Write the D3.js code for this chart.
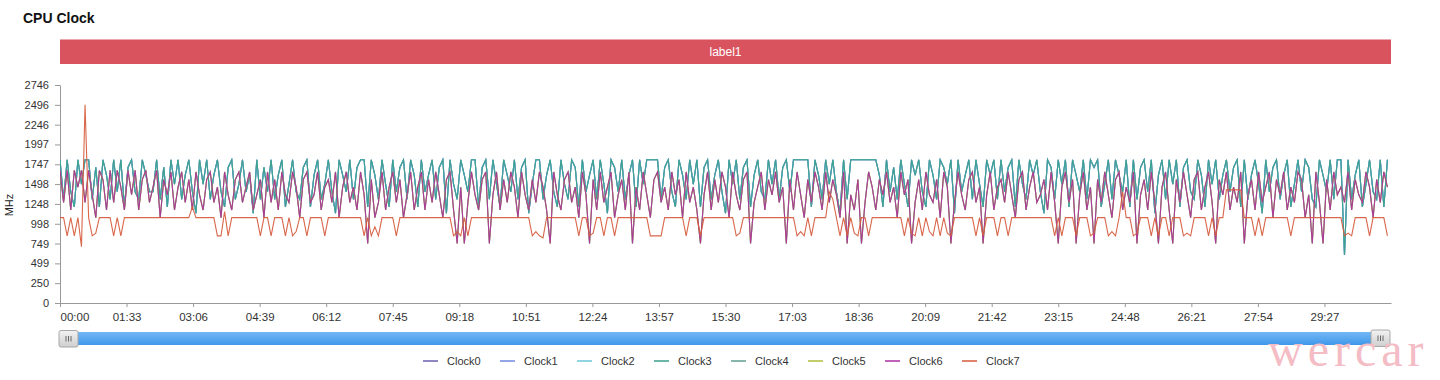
<!DOCTYPE html>
<html><head><meta charset="utf-8">
<script src="https://cdn.jsdelivr.net/npm/d3@7"></script>
<style>
body{margin:0;background:#fff;}
svg{display:block;font-family:"Helvetica Neue",Helvetica,Arial,"Liberation Sans",sans-serif;}
</style>
</head><body>
<svg id="chart" width="1440" height="380"></svg>
<script>
// ---- data (MHz, sampled every 5 s) ----
const sampleStepSeconds = 5;
const littleCluster = [
1804,1306,1804,1401,1210,1804,1497,1804,1804,1306,1708,1210,1804,1612,1306,1804,1401,1804,1210,1708,
1804,1401,1306,1804,1612,1401,1401,1804,1306,1708,1210,1804,1497,1804,1306,1612,1804,1401,1132,1804,
1497,1804,1306,1612,1804,1401,1210,1708,1804,1306,1497,1804,1401,1612,1132,1804,1306,1708,1401,1804,
1306,1612,1804,1210,1497,1804,1401,1306,1708,1804,1210,1612,1804,1306,1497,1804,1401,1132,1804,1612,
1401,1804,1306,1708,1804,1804,1210,1804,1612,1306,1804,1497,1210,1804,1401,1708,1804,1306,1804,1612,
1210,1804,1401,1612,1804,1306,1708,1804,1132,1804,1497,1306,1804,1612,1401,1804,1804,1210,1708,1804,
1306,1804,1497,1210,1804,1612,1401,1804,1306,1708,1804,1132,1497,1804,1804,1306,1612,1804,1401,1210,
1804,1497,1306,1804,1708,1210,1804,1401,1612,1804,1306,1804,1497,1132,1804,1708,1401,1804,1306,1612,
1804,1210,1804,1497,1804,1804,1804,1804,1306,1708,1804,1401,1210,1804,1612,1306,1804,1497,1804,1210,
1708,1804,1306,1612,1804,1401,1132,1804,1497,1804,1306,1708,1804,1210,1612,1804,1401,1306,1804,1497,
1804,1306,1708,1804,1401,1804,1804,1804,1804,1804,1210,1804,1612,1306,1804,1497,1804,1401,1132,1804,
1306,1804,1804,1804,1804,1804,1804,1804,1804,1612,1210,1804,1401,1708,1306,1804,1497,1210,1804,1612,
1804,1401,1210,1804,1612,1306,1804,1708,1497,1804,1132,1804,1401,1612,1804,1306,1804,1497,1210,1804,
1612,1804,1306,1804,1401,1708,1804,1210,1804,1497,1306,1804,1612,1804,1401,1132,1804,1708,1306,1804,
1497,1804,1210,1804,1612,1401,1804,1306,1804,1708,1804,1210,1497,1804,1306,1804,1612,1401,1804,1210,
1804,1306,1708,1804,1401,1804,1132,1612,1804,1306,1804,1497,1804,1210,1708,1804,1401,1306,1804,1612,
1210,1804,1497,1804,1306,1612,1804,1401,1708,1804,1210,1804,1306,1612,1804,1497,1132,1804,1401,1708,
1804,1306,1612,1804,1210,1497,1804,1401,1804,1708,1306,1210,1804,1612,1401,1804,1306,1804,1804,605,
1804,1306,1612,1804,1210,1497,1804,1401,1306,1804,1210,1804
];
const bigCluster = [
1670,1267,1670,1171,1670,1459,1670,1267,1670,1363,1075,1670,1555,1171,1670,1267,1670,1459,1171,1670,
1363,1670,1171,1555,1670,1267,1459,1670,1075,1555,1363,1651,1171,1459,1651,1267,1555,1171,1651,1363,
1171,1555,1651,1267,1459,1075,1651,1363,1171,1555,1651,1267,1459,1651,1171,1363,1555,1075,1651,1267,
1555,1171,1651,1363,1267,1651,1459,1075,1555,1651,1267,1363,1651,1171,1459,1555,1267,1651,1075,1459,
1651,1267,1459,1171,1651,1363,749,1555,1075,1267,1651,1171,1459,1651,1267,1555,1075,1363,1651,1171,
1459,1651,1171,1555,1267,1651,1363,1075,1555,1651,1171,749,1459,749,1267,1651,1363,1171,1555,1651,
749,1363,1651,1171,1555,1267,1651,1459,1075,1651,1363,1171,1555,1267,1651,1459,1171,749,1651,1363,
1171,1555,1651,1267,1459,1075,1651,1363,749,1555,1171,1651,1267,1459,1651,1075,1363,1555,1171,1651,
749,1459,1171,1651,1363,1075,1555,1651,1267,1459,1171,1651,1363,1555,1075,1651,1267,1459,1171,749,
1363,1651,1171,1555,1267,1651,1459,1075,1651,1363,1171,1555,1651,749,1267,1459,1651,1171,1555,1363,
1651,1267,1459,749,1555,1171,1651,1363,1075,1555,1267,1651,1459,1171,1651,1267,1555,1363,1075,1651,
749,1363,1171,1555,749,1267,1651,1459,1171,1555,1363,1651,1267,1459,1075,1651,1363,1555,749,1267,
1555,1171,1651,1363,1267,1555,1075,1651,1459,749,1267,1651,1363,1171,1555,1651,1267,1459,749,1363,
1651,1171,1459,1555,1267,1651,1363,1075,1555,1651,1171,1459,1651,1267,1363,1555,1171,1651,1267,749,
1459,1651,1267,1555,749,1363,1651,1171,1459,749,1555,1267,1651,1363,1075,1555,1651,1171,1459,1267,
1651,749,1363,1555,1171,1651,1267,749,1459,1651,1171,749,1555,1267,1651,1363,1075,1555,1651,1171,
1459,1651,1267,749,1555,1363,1651,1171,1459,1267,1651,749,1363,1555,1171,1651,1267,1459,1651,1075,
1555,1363,1651,1171,1459,1267,1651,1555,1075,1363,749,1651,1267,749,1555,1171,1651,1363,1459,1267,
1651,1171,1555,1363,1267,1651,1459,1075,1555,1267,1651,1459
];
const primeCore = [
1075,1075,846,1075,846,1075,708,2496,1075,846,880,1075,1075,1075,1075,846,1075,846,1075,1075,
1075,1075,1075,1075,1075,1075,1075,1075,1075,1075,1075,1075,1075,1075,1075,1075,1075,1210,1075,1075,
1075,1075,1075,1075,846,846,1150,846,1075,1075,1075,1075,1075,1075,1075,1075,846,1075,1075,846,
1075,1075,1075,846,1075,846,900,1075,1075,846,1075,1075,1075,1075,846,1075,1075,1075,1075,1075,
1075,1075,1075,1075,1075,846,1075,846,960,846,1075,1075,1075,1075,846,1075,1075,1075,1075,1075,
1075,1075,1075,1075,1075,1075,1075,1075,1075,1075,846,900,846,1075,846,1075,1075,1075,1075,1075,
1075,1075,1075,1075,1075,1075,1075,1075,1075,1075,1075,1075,846,900,846,820,1075,1075,1075,1075,
1075,1075,1075,1075,1075,846,1075,1075,846,880,1075,1075,846,1075,1075,846,1075,1075,1075,1075,
1075,1075,1075,1075,1075,846,846,846,846,1075,1075,1075,1075,1075,1075,846,1075,1075,1075,846,
1075,1075,1075,1075,1075,1075,1075,1075,1075,846,880,1075,1075,1075,1075,1075,1075,1075,1075,1075,
1075,1075,1075,1075,1075,1075,846,900,846,1075,846,1075,1075,1075,1075,1400,1306,1075,846,1075,
846,1075,880,846,1075,1075,846,1075,1075,1075,1075,1075,1075,1075,1075,1075,846,1075,880,846,
1075,846,1075,900,846,1075,846,1075,880,846,1075,1075,1075,1075,1075,1075,846,1075,846,1075,
1075,1075,846,1075,1075,846,1075,1075,1075,1075,1075,1075,1075,1075,1075,1075,1075,1075,846,1075,
846,1075,1075,1075,846,1075,1075,1075,846,880,1075,1075,1075,846,900,846,1075,1401,1075,1075,
846,880,1075,1075,1075,846,1075,846,1075,1075,846,1075,1075,1075,846,880,846,1075,1075,1075,
1075,846,1075,846,1075,1075,1425,1425,1425,1425,1425,1075,1075,1075,846,1075,846,1075,1075,1075,
1075,1075,1075,1075,846,1075,1075,1075,1075,1075,1075,1075,1075,1075,1075,1075,1075,1075,1075,846,
880,846,1075,1075,1075,1075,846,1075,1075,1075,1075,846
];
const seriesNames = ["Clock0","Clock1","Clock2","Clock3","Clock4","Clock5","Clock6","Clock7"];
const seriesColors = ["#6a5fb0","#6f88e0","#6cc7d8","#3a9e8a","#5f9e90","#b0bd3a","#ab2fa2","#d65a3c"];
const seriesValues = [littleCluster, littleCluster, littleCluster, littleCluster, bigCluster, bigCluster, bigCluster, primeCore];
const yTickValues = [0,250,499,749,998,1248,1498,1747,1997,2246,2496,2746];
const xTickSeconds = [0,93,186,279,372,465,558,651,744,837,930,1023,1116,1209,1302,1395,1488,1581,1674,1767];
const xTickLabels = ["00:00","01:33","03:06","04:39","06:12","07:45","09:18","10:51","12:24","13:57","15:30","17:03","18:36","20:09","21:42","23:15","24:48","26:21","27:54","29:27"];
const xMaxSeconds = 1860;
const yMax = 2746;
const bandLabel = "label1";

// ---- layout ----
const svg = d3.select("#chart");
const L = 60, R = 1391, T = 85, B = 303;
const x = d3.scaleLinear().domain([0, xMaxSeconds]).range([L, R]);
const y = d3.scaleLinear().domain([0, yMax]).range([B, T]);

svg.append("text").attr("x", 23).attr("y", 23).attr("font-size", 14).attr("font-weight", "bold")
  .attr("fill", "#111").text("CPU Clock");

svg.append("rect").attr("x", L).attr("y", 39.5).attr("width", R - L).attr("height", 24.5).attr("fill", "#d9535f");
svg.append("text").attr("x", (L + R) / 2).attr("y", 52).attr("dy", "0.35em").attr("text-anchor", "middle")
  .attr("font-size", 12).attr("fill", "#fff").text(bandLabel);

// y axis
const yAxis = svg.append("g").attr("transform", `translate(${L},0)`)
  .call(d3.axisLeft(y).tickValues(yTickValues).tickFormat(d => d).tickSize(5).tickSizeOuter(0).tickPadding(6));
yAxis.select(".domain").attr("stroke", "#999");
yAxis.selectAll(".tick line").attr("stroke", "#999");
yAxis.selectAll("text").attr("font-size", 11).attr("fill", "#333").attr("font-family", null);

svg.append("text").attr("transform", "translate(13,205) rotate(-90)").attr("text-anchor", "middle")
  .attr("font-size", 11).attr("fill", "#222").text("MHz");

// x axis
const xAxis = svg.append("g").attr("transform", `translate(0,${B})`)
  .call(d3.axisBottom(x).tickValues(xTickSeconds).tickFormat((d, i) => xTickLabels[i]).tickSize(4).tickSizeOuter(0).tickPadding(6));
xAxis.select(".domain").attr("stroke", "#999");
xAxis.selectAll(".tick line").attr("stroke", "#999");
xAxis.selectAll("text").attr("font-size", 11.5).attr("fill", "#333").attr("font-family", null);
xAxis.selectAll("text").filter((d, i) => i === 0).attr("text-anchor", "start");

// lines
svg.append("clipPath").attr("id", "plotclip").append("rect").attr("x", L).attr("y", 0).attr("width", R - L).attr("height", B + 1);
const line = d3.line().x((d, i) => x(i * sampleStepSeconds)).y(d => y(d));
const plot = svg.append("g").attr("clip-path", "url(#plotclip)");
seriesValues.forEach((vals, k) => {
  plot.append("path").datum(vals).attr("d", line).attr("fill", "none")
    .attr("stroke", seriesColors[k]).attr("stroke-width", 1.1).attr("stroke-opacity", 0.92);
});

// slider
const defs = svg.append("defs");
const g1 = defs.append("linearGradient").attr("id", "barGrad").attr("x1", 0).attr("y1", 0).attr("x2", 0).attr("y2", 1);
g1.append("stop").attr("offset", 0).attr("stop-color", "#74b8f5");
g1.append("stop").attr("offset", 1).attr("stop-color", "#3f97ea");
const g2 = defs.append("linearGradient").attr("id", "hGrad").attr("x1", 0).attr("y1", 0).attr("x2", 0).attr("y2", 1);
g2.append("stop").attr("offset", 0).attr("stop-color", "#f2f2f2");
g2.append("stop").attr("offset", 1).attr("stop-color", "#cfcfcf");
svg.append("rect").attr("x", L).attr("y", 332).attr("width", R - 1 - L).attr("height", 13).attr("fill", "url(#barGrad)");
[[59, 330.5], [1371, 330]].forEach(([hx, hy]) => {
  const h = svg.append("g");
  h.append("rect").attr("x", hx).attr("y", hy).attr("width", 19).attr("height", 16.5).attr("rx", 2)
    .attr("fill", "url(#hGrad)").attr("stroke", "#a8a8a8");
  [-2.5, 0, 2.5].forEach(o => h.append("line").attr("x1", hx + 9.5 + o).attr("x2", hx + 9.5 + o)
    .attr("y1", hy + 5.5).attr("y2", hy + 11).attr("stroke", "#666").attr("stroke-width", 1));
});

// legend
const legend = svg.append("g");
seriesNames.forEach((name, k) => {
  const tx = 447 + k * 77;
  legend.append("line").attr("x1", tx - 24).attr("x2", tx - 9).attr("y1", 361).attr("y2", 361)
    .attr("stroke", seriesColors[k]).attr("stroke-width", 1.5);
  legend.append("text").attr("x", tx).attr("y", 361).attr("dy", "0.35em").attr("font-size", 11)
    .attr("fill", "#333").text(name);
});

// watermark
svg.append("text").attr("x", 1268).attr("y", 366).attr("font-family", "'Liberation Serif','DejaVu Serif',serif")
  .attr("font-size", 48).attr("letter-spacing", 5).attr("fill", "#f4bcc5").text("wercar");
</script>
</body></html>
